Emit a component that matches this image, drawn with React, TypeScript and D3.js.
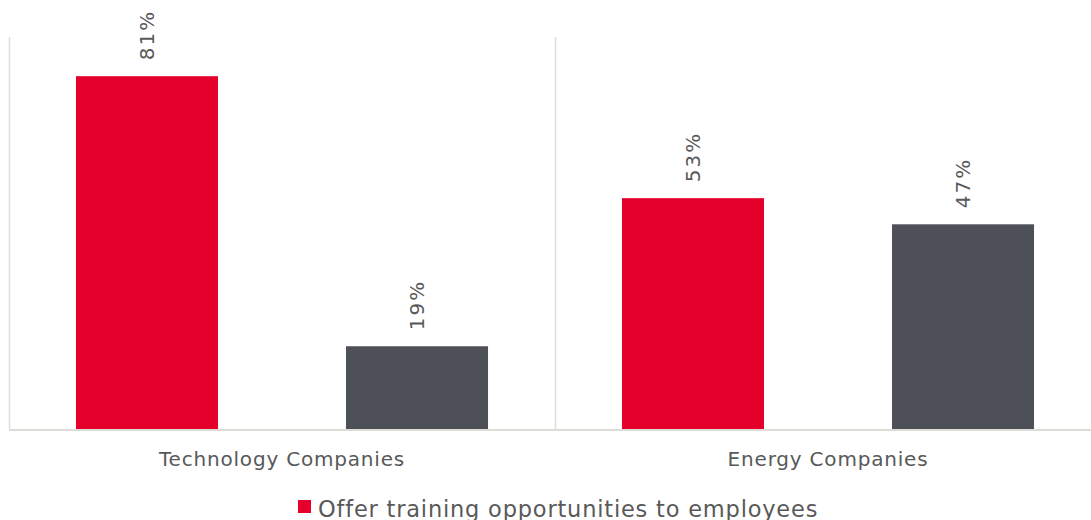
import React, { useEffect, useRef } from "react";
import * as d3 from "d3";

const categories = ["Technology Companies", "Energy Companies"];
const seriesNames = [
  "Offer training opportunities to employees",
  "Do not offer training opportunities to employees",
];
const seriesColors = ["#E4002B", "#4D5056"];
const offerValues = [81, 53];
const noOfferValues = [19, 47];

const W = 1091;
const H = 520;

export default function App() {
  const ref = useRef<SVGSVGElement>(null);

  useEffect(() => {
    const svg = d3.select(ref.current);
    svg.selectAll("*").remove();

    const margin = { top: 37, right: 0, bottom: 91, left: 9 };
    const innerH = H - margin.top - margin.bottom;

    const x0 = d3
      .scaleBand()
      .domain(categories)
      .range([margin.left, 1101])
      .paddingInner(0)
      .paddingOuter(0);
    const x1 = d3
      .scaleBand()
      .domain(seriesNames)
      .range([0, x0.bandwidth()])
      .paddingInner(0.474)
      .paddingOuter(0.248);
    const y = d3
      .scaleLinear()
      .domain([0, 90])
      .range([margin.top + innerH, margin.top]);

    const font = "Verdana, 'DejaVu Sans', sans-serif";

    // category separators
    svg
      .append("g")
      .selectAll("line")
      .data(categories)
      .enter()
      .append("line")
      .attr("x1", (d) => Math.round(x0(d)!) + 0.5)
      .attr("x2", (d) => Math.round(x0(d)!) + 0.5)
      .attr("y1", y(90))
      .attr("y2", y(0))
      .attr("stroke", "#DDDDD8")
      .attr("stroke-width", 1.5);

    const rows = categories.map((c, i) => [
      { cat: c, s: seriesNames[0], v: offerValues[i], color: seriesColors[0] },
      { cat: c, s: seriesNames[1], v: noOfferValues[i], color: seriesColors[1] },
    ]);

    const g = svg
      .append("g")
      .selectAll("g")
      .data(rows)
      .enter()
      .append("g")
      .attr("transform", (d) => `translate(${x0(d[0].cat)},0)`);

    g.selectAll("rect")
      .data((d) => d)
      .enter()
      .append("rect")
      .attr("x", (d) => x1(d.s)!)
      .attr("width", x1.bandwidth())
      .attr("y", (d) => y(d.v))
      .attr("height", (d) => y(0) - y(d.v))
      .attr("fill", (d) => d.color);

    g.selectAll("text")
      .data((d) => d)
      .enter()
      .append("text")
      .attr(
        "transform",
        (d) => `translate(${x1(d.s)! + x1.bandwidth() / 2 + 7},${y(d.v) - 16}) rotate(-90)`
      )
      .attr("text-anchor", "start")
      .style("font-family", font)
      .style("font-size", "20px")
      .style("letter-spacing", "2px")
      .attr("fill", "#595959")
      .text((d) => d.v + "%");

    // baseline
    svg
      .append("line")
      .attr("x1", margin.left)
      .attr("x2", W)
      .attr("y1", y(0) + 1)
      .attr("y2", y(0) + 1)
      .attr("stroke", "#DDDDD8")
      .attr("stroke-width", 2);

    // category labels
    svg
      .append("g")
      .selectAll("text")
      .data(categories)
      .enter()
      .append("text")
      .attr("x", (d) => x0(d)! + 273)
      .attr("y", 466)
      .attr("text-anchor", "middle")
      .style("font-family", font)
      .style("font-size", "20px")
      .style("letter-spacing", "0.8px")
      .attr("fill", "#595959")
      .text((d) => d);

    // legend (second row falls below the visible area)
    const leg = svg
      .append("g")
      .selectAll("g")
      .data(seriesNames)
      .enter()
      .append("g")
      .attr("transform", (d, i) => `translate(298,${500 + i * 30})`);
    leg
      .append("rect")
      .attr("width", 13)
      .attr("height", 13)
      .attr("fill", (d, i) => seriesColors[i]);
    leg
      .append("text")
      .attr("x", 20)
      .attr("y", 17)
      .style("font-family", font)
      .style("font-size", "22.5px")
      .style("letter-spacing", "0.8px")
      .attr("fill", "#595959")
      .text((d) => d);
  }, []);

  return (
    <svg
      ref={ref}
      width={W}
      height={H}
      style={{ position: "absolute", left: 0, top: 0, background: "#fff" }}
    />
  );
}
